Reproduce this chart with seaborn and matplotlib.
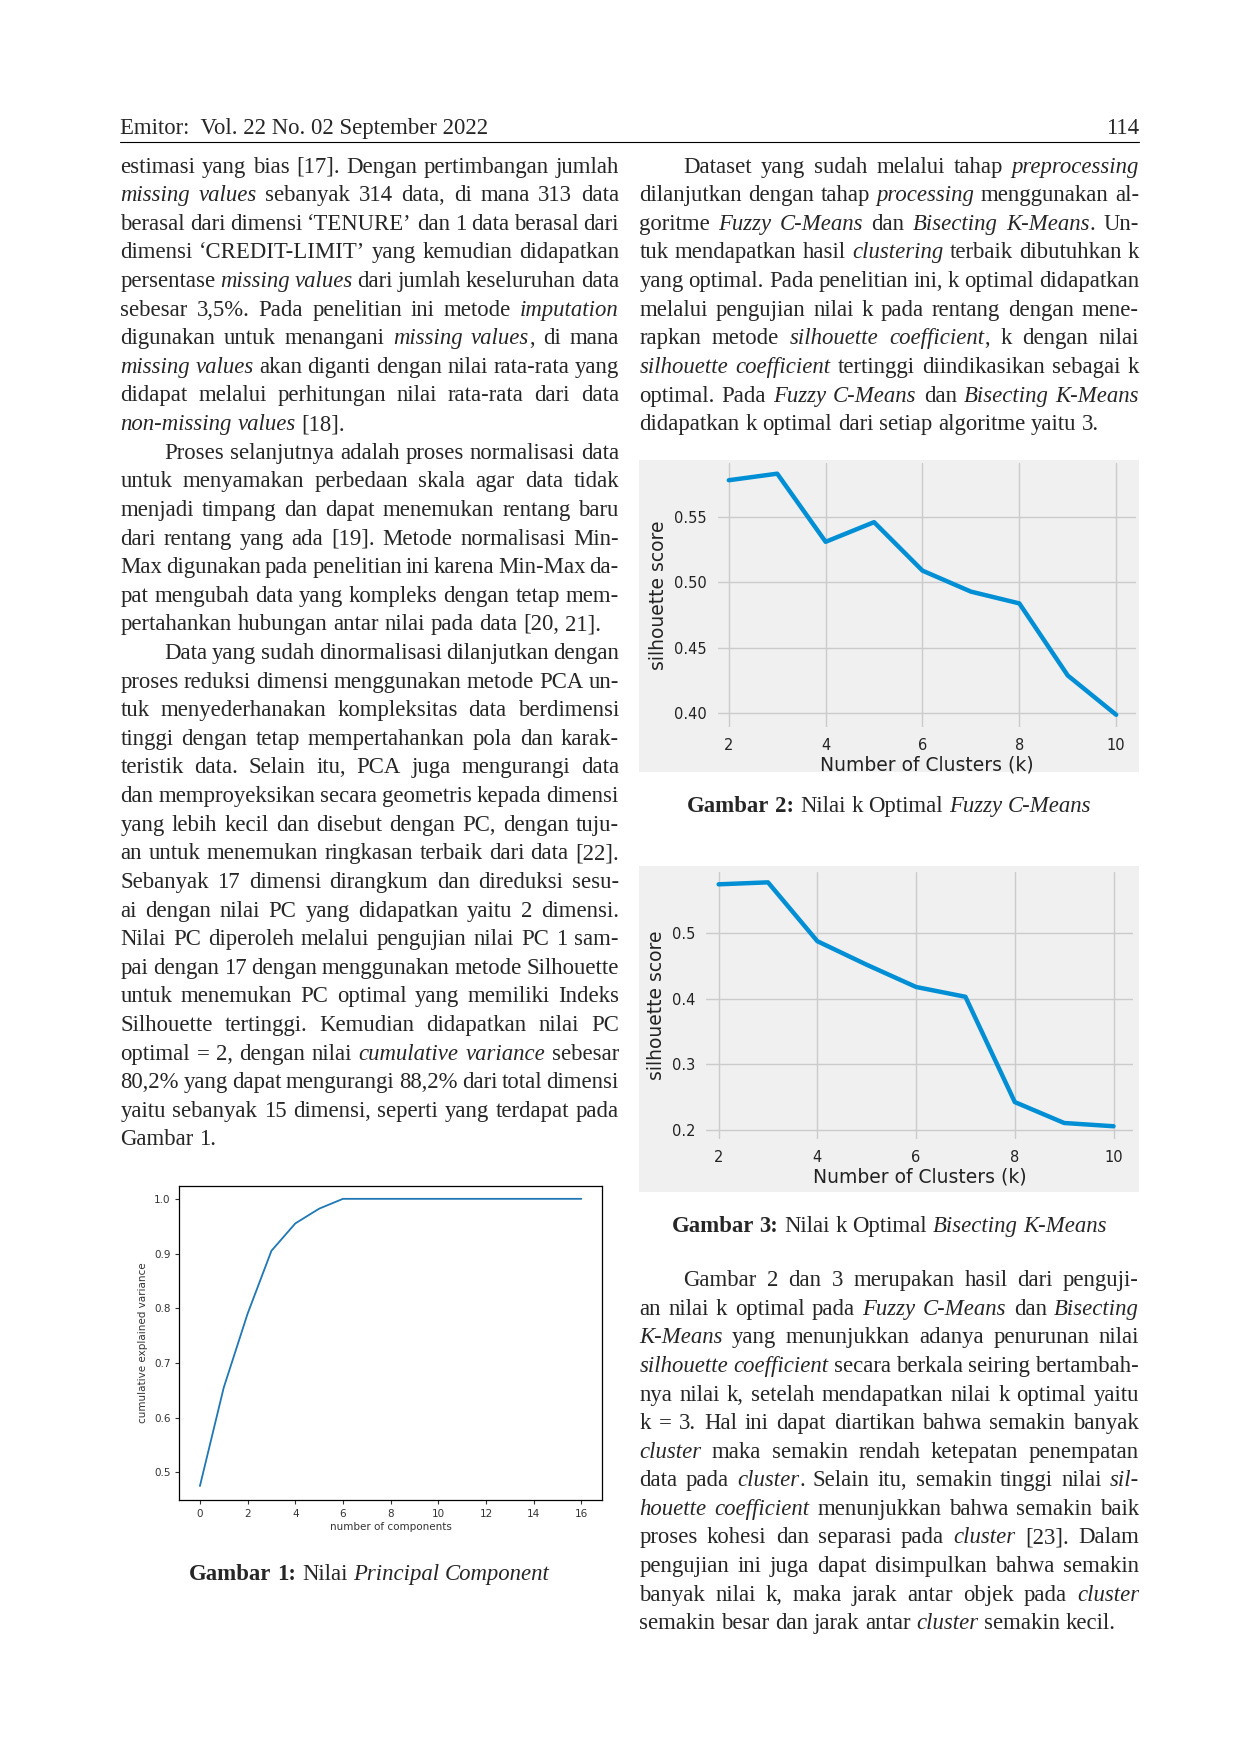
import matplotlib
matplotlib.use("Agg")
import matplotlib.pyplot as plt
import seaborn as sns
import pandas as pd
from matplotlib.patches import Rectangle

sns.set_style("white")
plt.rcParams['font.family'] = ['DejaVu Sans']

# ---------------- data ----------------
pc_components = list(range(17))
pc_cumvar = [0.475, 0.655, 0.790, 0.905, 0.955, 0.982, 1.0, 1.0, 1.0, 1.0, 1.0, 1.0, 1.0, 1.0, 1.0, 1.0, 1.0]
k_values = [2, 3, 4, 5, 6, 7, 8, 9, 10]
fcm_sil = [0.578, 0.583, 0.531, 0.546, 0.509, 0.493, 0.484, 0.429, 0.399]
bkm_sil = [0.575, 0.578, 0.488, 0.452, 0.418, 0.403, 0.242, 0.210, 0.205]

W, H = 1092.0, 1545.0  # reference display coordinate frame
fig = plt.figure(figsize=(12.4, 17.54), dpi=100)

def fx(x): return x / W
def fy(y): return 1 - y / H

SERIF = ['Liberation Serif', 'DejaVu Serif']
FS = 16.4

# header
fig.text(fx(106), fy(118), "Emitor:  Vol. 22 No. 02 September 2022", family=SERIF, fontsize=FS, va='baseline')
fig.text(fx(1003), fy(118), "114", family=SERIF, fontsize=FS, va='baseline', ha='right')
fig.add_artist(plt.Line2D([fx(106), fx(1003)], [fy(125), fy(125)], color='black', lw=0.8))

left_col = [
 (1, "estimasi yang bias [17]. Dengan pertimbangan jumlah"),
 (0, "*missing values* sebanyak 314 data, di mana 313 data"),
 (0, "berasal dari dimensi ‘TENURE’ dan 1 data berasal dari"),
 (0, "dimensi ‘CREDIT-LIMIT’ yang kemudian didapatkan"),
 (0, "persentase *missing values* dari jumlah keseluruhan data"),
 (0, "sebesar 3,5%. Pada penelitian ini metode *imputation*"),
 (0, "digunakan untuk menangani *missing values*, di mana"),
 (0, "*missing values* akan diganti dengan nilai rata-rata yang"),
 (0, "didapat melalui perhitungan nilai rata-rata dari data"),
 (3, "*non-missing values* [18]."),
 (2, "Proses selanjutnya adalah proses normalisasi data"),
 (0, "untuk menyamakan perbedaan skala agar data tidak"),
 (0, "menjadi timpang dan dapat menemukan rentang baru"),
 (0, "dari rentang yang ada [19]. Metode normalisasi Min-"),
 (0, "Max digunakan pada penelitian ini karena Min-Max da-"),
 (0, "pat mengubah data yang kompleks dengan tetap mem-"),
 (3, "pertahankan hubungan antar nilai pada data [20, 21]."),
 (2, "Data yang sudah dinormalisasi dilanjutkan dengan"),
 (0, "proses reduksi dimensi menggunakan metode PCA un-"),
 (0, "tuk menyederhanakan kompleksitas data berdimensi"),
 (0, "tinggi dengan tetap mempertahankan pola dan karak-"),
 (0, "teristik data.  Selain itu, PCA juga mengurangi data"),
 (0, "dan memproyeksikan secara geometris kepada dimensi"),
 (0, "yang lebih kecil dan disebut dengan PC, dengan tuju-"),
 (0, "an untuk menemukan ringkasan terbaik dari data [22]."),
 (0, "Sebanyak 17 dimensi dirangkum dan direduksi sesu-"),
 (0, "ai dengan nilai PC yang didapatkan yaitu 2 dimensi."),
 (0, "Nilai PC diperoleh melalui pengujian nilai PC 1 sam-"),
 (0, "pai dengan 17 dengan menggunakan metode Silhouette"),
 (0, "untuk menemukan PC optimal yang memiliki Indeks"),
 (0, "Silhouette tertinggi.  Kemudian didapatkan nilai PC"),
 (0, "optimal = 2, dengan nilai *cumulative variance* sebesar"),
 (0, "80,2% yang dapat mengurangi 88,2% dari total dimensi"),
 (0, "yaitu sebanyak 15 dimensi, seperti yang terdapat pada"),
 (3, "Gambar 1."),
]
right_top = [
 (2, "Dataset yang sudah melalui tahap *preprocessing*"),
 (0, "dilanjutkan dengan tahap *processing* menggunakan al-"),
 (0, "goritme *Fuzzy C-Means* dan *Bisecting K-Means*. Un-"),
 (0, "tuk mendapatkan hasil *clustering* terbaik dibutuhkan k"),
 (0, "yang optimal. Pada penelitian ini, k optimal didapatkan"),
 (0, "melalui pengujian nilai k pada rentang dengan mene-"),
 (0, "rapkan metode *silhouette coefficient*, k dengan nilai"),
 (0, "*silhouette coefficient* tertinggi diindikasikan sebagai k"),
 (0, "optimal. Pada *Fuzzy C-Means* dan *Bisecting K-Means*"),
 (3, "didapatkan k optimal dari setiap algoritme yaitu 3."),
]
right_bot = [
 (2, "Gambar 2 dan 3 merupakan hasil dari penguji-"),
 (0, "an nilai k optimal pada *Fuzzy C-Means* dan *Bisecting*"),
 (0, "*K-Means* yang menunjukkan adanya penurunan nilai"),
 (0, "*silhouette coefficient* secara berkala seiring bertambah-"),
 (0, "nya nilai k, setelah mendapatkan nilai k optimal yaitu"),
 (0, "k = 3. Hal ini dapat diartikan bahwa semakin banyak"),
 (0, "*cluster* maka semakin rendah ketepatan penempatan"),
 (0, "data pada *cluster*.  Selain itu, semakin tinggi nilai *sil-*"),
 (0, "*houette coefficient* menunjukkan bahwa semakin baik"),
 (0, "proses kohesi dan separasi pada *cluster* [23].  Dalam"),
 (0, "pengujian ini juga dapat disimpulkan bahwa semakin"),
 (0, "banyak nilai k, maka jarak antar objek pada *cluster*"),
 (3, "semakin besar dan jarak antar *cluster* semakin kecil."),
]

renderer = fig.canvas.get_renderer()

def parse(line):
    words = []
    italic = False
    bold = False
    cur = ""
    toks = []
    for ch in line:
        if ch == '*':
            if cur:
                toks.append((cur, italic, bold)); cur = ""
            italic = not italic
        elif ch == '#':
            if cur:
                toks.append((cur, italic, bold)); cur = ""
            bold = not bold
        else:
            cur += ch
    if cur:
        toks.append((cur, italic, bold))
    for txt, it, bd in toks:
        parts = txt.split(' ')
        for i, p in enumerate(parts):
            if i > 0:
                words.append(None)
            if p:
                words.append((p, it, bd))
    units, curu = [], []
    for w in words:
        if w is None:
            if curu:
                units.append(curu); curu = []
        else:
            curu.append(w)
    if curu:
        units.append(curu)
    return units

def width_of(t):
    bb = t.get_window_extent(renderer)
    return bb.width / fig.bbox.width

probe = fig.text(0, 0, "a a", family=SERIF, fontsize=FS)
probe2 = fig.text(0, 0, "aa", family=SERIF, fontsize=FS)
SPACE = width_of(probe) - width_of(probe2)
probe.remove(); probe2.remove()

def draw_line(units, x0, x1, ybase, justify, fontsize=FS, center=False):
    arts = []
    for u in units:
        segs = []
        for (s, it, bd) in u:
            t = fig.text(0, ybase, s, family=SERIF, fontsize=fontsize,
                         style='italic' if it else 'normal',
                         weight='bold' if bd else 'normal', va='baseline')
            segs.append((t, width_of(t)))
        arts.append(segs)
    uw = [sum(w for _, w in segs) for segs in arts]
    total = sum(uw)
    n = len(arts)
    if justify and n > 1:
        gap = (fx(x1) - fx(x0) - total) / (n - 1)
    else:
        gap = SPACE
    x = fx(x0)
    if center:
        x = (fx(x0) + fx(x1)) / 2 - (total + gap * (n - 1)) / 2
    for segs, w in zip(arts, uw):
        xx = x
        for t, sw in segs:
            t.set_x(xx); xx += sw
        x += w + gap

def draw_block(lines, x0, x1, y0, step):
    for i, (kind, line) in enumerate(lines):
        ybase = fy(y0 + i * step + 6)
        start = x0 + 39 if kind == 2 else x0
        draw_line(parse(line), start, x1, ybase, justify=(kind != 3))

draw_block(left_col, 106, 545, 146, (1003 - 146) / 34)
draw_block(right_top, 563, 1003, 146, (373 - 146) / 9)
draw_block(right_bot, 563, 1003, 1127, (1429 - 1127) / 12)

# captions
draw_line(parse("#Gambar 2:# Nilai k Optimal *Fuzzy C-Means*"), 563, 1003, fy(715), False, center=True)
draw_line(parse("#Gambar 3:# Nilai k Optimal *Bisecting K-Means*"), 563, 1003, fy(1085), False, center=True)
draw_line(parse("#Gambar 1:# Nilai *Principal Component*"), 106, 545, fy(1392), False, center=True)

# ---------------- charts ----------------
BLUE = '#008fd5'
BG = '#f0f0f0'

def sil_chart(box, axbox, xs, ys, ylim, xlim, yticks, yfmt):
    bx0, by0, bx1, by1 = box
    fig.add_artist(Rectangle((fx(bx0), fy(by1)), fx(bx1) - fx(bx0), fy(by0) - fy(by1),
                             transform=fig.transFigure, facecolor=BG, edgecolor='none', zorder=0))
    ax0, ay0, ax1, ay1 = axbox
    ax = fig.add_axes([fx(ax0), fy(ay1), fx(ax1) - fx(ax0), fy(ay0) - fy(ay1)])
    ax.set_facecolor(BG)
    df = pd.DataFrame({'k': xs, 's': ys})
    sns.lineplot(data=df, x='k', y='s', ax=ax, color=BLUE, lw=3.2)
    ax.set_xlim(*xlim); ax.set_ylim(*ylim)
    ax.set_xticks([2, 4, 6, 8, 10])
    ax.set_yticks(yticks)
    ax.set_yticklabels([yfmt.format(v) for v in yticks])
    ax.grid(True, color='#cbcbcb', lw=1)
    for s in ax.spines.values():
        s.set_visible(False)
    ax.tick_params(length=0, labelsize=10.5, colors='#222222', pad=8)
    ax.set_xlabel("Number of Clusters (k)", fontsize=13.5, color='#222222', labelpad=2)
    ax.set_ylabel("silhouette score", fontsize=13.5, color='#222222', labelpad=4)
    return ax

sil_chart((563, 405, 1003, 680), (632, 408, 1000, 640), k_values, fcm_sil,
          (0.39, 0.591), (1.77, 10.4), [0.40, 0.45, 0.50, 0.55], "{:.2f}")
sil_chart((563, 763, 1003, 1050), (622, 768, 998, 1003), k_values, bkm_sil,
          (0.186, 0.594), (1.75, 10.4), [0.2, 0.3, 0.4, 0.5], "{:.1f}")

# PCA chart
ax = fig.add_axes([fx(158), fy(1321), fx(530) - fx(158), fy(1045) - fy(1321)])
df = pd.DataFrame({'n': pc_components, 'v': pc_cumvar})
sns.lineplot(data=df, x='n', y='v', ax=ax, color='#1f77b4', lw=1.3)
ax.set_xlim(-0.86, 16.86); ax.set_ylim(0.45, 1.0228)
ax.set_xticks(range(0, 17, 2))
ax.set_yticks([0.5, 0.6, 0.7, 0.8, 0.9, 1.0])
ax.set_yticklabels(["0.5", "0.6", "0.7", "0.8", "0.9", "1.0"])
for s in ax.spines.values():
    s.set_visible(True); s.set_color('black'); s.set_linewidth(0.9)
ax.tick_params(labelsize=7.5, length=3, width=0.8, colors='#333333', left=True, bottom=True)
ax.set_xlabel("number of components", fontsize=7.5, color='#333333', labelpad=2)
ax.set_ylabel("cumulative explained variance", fontsize=7.5, color='#333333', labelpad=4)

fig.savefig("out.png", dpi=100, facecolor='white')
